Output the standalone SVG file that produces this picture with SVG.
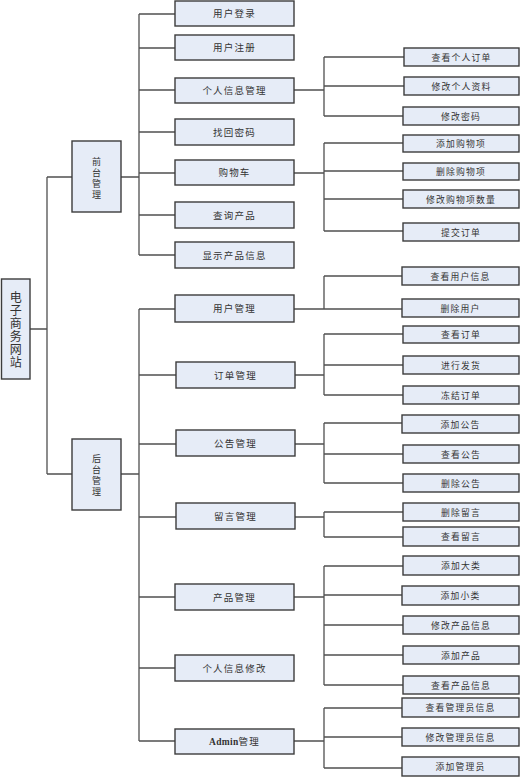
<svg xmlns="http://www.w3.org/2000/svg" width="521" height="777" viewBox="0 0 521 777">
<style>
.b{fill:#e6ecf7;stroke:#3c3c3c;stroke-width:1.4}
.t{font-family:"Noto Sans CJK SC","Noto Sans CJK JP",sans-serif;font-size:9.5px;fill:#333;text-anchor:middle;letter-spacing:1.2px}
.r{font-size:8.8px}
.v{font-family:"Noto Sans CJK SC",sans-serif;font-size:9px;fill:#333;text-anchor:middle;writing-mode:vertical-rl;letter-spacing:2px}
.c{fill:none;stroke:#505050;stroke-width:1.3}
</style>
<rect width="521" height="777" fill="#fff"/>
<g id="connectors" class="c">
<path d="M30 329H47M47 177V474M47 177H72M47 474H72"/>
<path d="M121 177H139M139 14V255M139 14H175M139 48H175M139 90H175M139 132H175M139 173H175M139 215H175M139 255H175"/>
<path d="M121 474H139M139 309V741M139 309H175M139 375H176M139 444H176M139 517H176M139 597H175M139 668H175M139 741H175"/>
<path d="M294 90H324M324 57V116M324 57H404M324 86H404M324 116H403"/>
<path d="M294 173H324M324 143V231M324 143H403M324 171H403M324 199H403M324 231H403"/>
<path d="M294 309H324M324 276V309M324 276H402M324 309H402"/>
<path d="M295 375H324M324 334V395M324 334H403M324 365H403M324 395H403"/>
<path d="M295 444H324M324 423V483M324 423H402M324 454H403M324 483H403"/>
<path d="M295 517H324M324 512V537M324 512H403M324 537H403"/>
<path d="M294 597H324M324 566V685M324 566H403M324 595H402M324 625H403M324 655H403M324 685H403"/>
<path d="M294 741H324M324 708V768M324 708H402M324 737H402M324 768H402"/>
</g>
<g id="root"><rect class="b" x="1.5" y="279" width="28.5" height="100"/>
<text class="v" x="15.8" y="330" style="font-size:12px;letter-spacing:1px">电子商务网站</text></g>
<g id="front"><rect class="b" x="72" y="141" width="49" height="71"/>
<text class="v" x="96.5" y="179">前台管理</text></g>
<g id="back"><rect class="b" x="72" y="439" width="49" height="71"/>
<text class="v" x="96.5" y="476">后台管理</text></g>

<g id="m1"><rect class="b" x="175" y="1" width="119" height="25"/><text class="t" x="234.5" y="17">用户登录</text></g>
<g id="m2"><rect class="b" x="175" y="35" width="119" height="25"/><text class="t" x="234.5" y="51">用户注册</text></g>
<g id="m3"><rect class="b" x="175" y="78" width="119" height="25"/><text class="t" x="234.5" y="94">个人信息管理</text></g>
<g id="m4"><rect class="b" x="175" y="119" width="119" height="26"/><text class="t" x="234.5" y="136">找回密码</text></g>
<g id="m5"><rect class="b" x="175" y="160" width="119" height="25"/><text class="t" x="234.5" y="176">购物车</text></g>
<g id="m6"><rect class="b" x="175" y="202" width="119" height="26"/><text class="t" x="234.5" y="219">查询产品</text></g>
<g id="m7"><rect class="b" x="175" y="242" width="119" height="26"/><text class="t" x="234.5" y="259">显示产品信息</text></g>

<g id="m8"><rect class="b" x="175" y="295" width="119" height="27"/><text class="t" x="234.5" y="312">用户管理</text></g>
<g id="m9"><rect class="b" x="176" y="362" width="119" height="26"/><text class="t" x="235.5" y="379">订单管理</text></g>
<g id="m10"><rect class="b" x="176" y="430" width="119" height="26"/><text class="t" x="235.5" y="447">公告管理</text></g>
<g id="m11"><rect class="b" x="176" y="503" width="119" height="26"/><text class="t" x="235.5" y="520">留言管理</text></g>
<g id="m12"><rect class="b" x="175" y="584" width="119" height="26"/><text class="t" x="234.5" y="601">产品管理</text></g>
<g id="m13"><rect class="b" x="175" y="655" width="119" height="26"/><text class="t" x="234.5" y="672">个人信息修改</text></g>
<g id="m14"><rect class="b" x="175" y="729" width="119" height="25"/><text class="t" x="234.5" y="745"><tspan style="font-family:'Liberation Serif',serif;font-weight:bold;letter-spacing:0.3px">Admin</tspan>管理</text></g>

<g id="r1"><rect class="b" x="404" y="48" width="115" height="18"/><text class="t r" x="461.5" y="60.5">查看个人订单</text></g>
<g id="r2"><rect class="b" x="404" y="77" width="115" height="18"/><text class="t r" x="461.5" y="89.5">修改个人资料</text></g>
<g id="r3"><rect class="b" x="403" y="107" width="116" height="18"/><text class="t r" x="461" y="119.5">修改密码</text></g>
<g id="r4"><rect class="b" x="403" y="135" width="116" height="17"/><text class="t r" x="461" y="147">添加购物项</text></g>
<g id="r5"><rect class="b" x="403" y="163" width="116" height="17"/><text class="t r" x="461" y="175">删除购物项</text></g>
<g id="r6"><rect class="b" x="403" y="190" width="116" height="18"/><text class="t r" x="461" y="202.5">修改购物项数量</text></g>
<g id="r7"><rect class="b" x="403" y="223" width="116" height="18"/><text class="t r" x="461" y="235.5">提交订单</text></g>

<g id="r8"><rect class="b" x="402" y="267" width="117" height="18"/><text class="t r" x="460.5" y="279.5">查看用户信息</text></g>
<g id="r9"><rect class="b" x="402" y="299" width="117" height="18"/><text class="t r" x="460.5" y="311.5">删除用户</text></g>
<g id="r10"><rect class="b" x="403" y="326" width="116" height="17"/><text class="t r" x="461" y="338">查看订单</text></g>
<g id="r11"><rect class="b" x="403" y="356" width="116" height="18"/><text class="t r" x="461" y="368.5">进行发货</text></g>
<g id="r12"><rect class="b" x="403" y="386" width="116" height="18"/><text class="t r" x="461" y="398.5">冻结订单</text></g>
<g id="r13"><rect class="b" x="402" y="415" width="117" height="18"/><text class="t r" x="460.5" y="427.5">添加公告</text></g>
<g id="r14"><rect class="b" x="403" y="445" width="116" height="18"/><text class="t r" x="461" y="457.5">查看公告</text></g>
<g id="r15"><rect class="b" x="403" y="474" width="116" height="18"/><text class="t r" x="461" y="486.5">删除公告</text></g>

<g id="r16"><rect class="b" x="403" y="503" width="116" height="18"/><text class="t r" x="461" y="515.5">删除留言</text></g>
<g id="r17"><rect class="b" x="403" y="527" width="116" height="19"/><text class="t r" x="461" y="540">查看留言</text></g>
<g id="r18"><rect class="b" x="403" y="556" width="116" height="19"/><text class="t r" x="461" y="569">添加大类</text></g>
<g id="r19"><rect class="b" x="402" y="586" width="117" height="19"/><text class="t r" x="460.5" y="599">添加小类</text></g>
<g id="r20"><rect class="b" x="403" y="616" width="116" height="18"/><text class="t r" x="461" y="628.5">修改产品信息</text></g>
<g id="r21"><rect class="b" x="403" y="646" width="116" height="18"/><text class="t r" x="461" y="658.5">添加产品</text></g>
<g id="r22"><rect class="b" x="403" y="676" width="116" height="18"/><text class="t r" x="461" y="688.5">查看产品信息</text></g>
<g id="r23"><rect class="b" x="402" y="698" width="117" height="19"/><text class="t r" x="460.5" y="711">查看管理员信息</text></g>
<g id="r24"><rect class="b" x="402" y="728" width="117" height="18"/><text class="t r" x="460.5" y="740.5">修改管理员信息</text></g>
<g id="r25"><rect class="b" x="402" y="757" width="117" height="19"/><text class="t r" x="460.5" y="770">添加管理员</text></g>
</svg>
